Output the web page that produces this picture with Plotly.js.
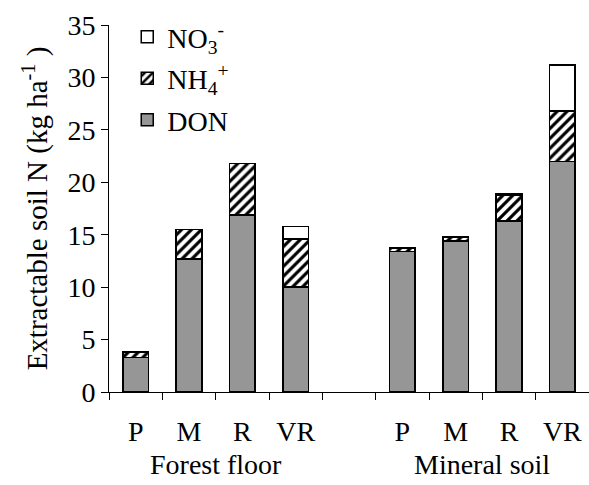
<!DOCTYPE html>
<html>
<head>
<meta charset="utf-8">
<script src="https://cdn.plot.ly/plotly-3.0.1.min.js"></script>
<style>
  html, body { margin: 0; padding: 0; background: #ffffff; }
  #chart { width: 589px; height: 485px; }
</style>
</head>
<body>
<div id="chart"></div>
<script>
// Slot positions on the x axis (slot 4 is the empty gap between groups)
const slots = [0, 1, 2, 3, 5, 6, 7, 8];
const categories = ["P", "M", "R", "VR", "P", "M", "R", "VR"];
const groups = ["Forest floor", "Mineral soil"];
const groupCentres = [1.5, 6.5];

// Extractable N pools (kg ha-1)
const don = [3.3, 12.7, 16.9, 10.0, 13.4, 14.4, 16.3, 22.0];
const nh4 = [0.5, 2.8, 4.9, 4.6, 0.35, 0.4, 2.5, 4.8];
const no3 = [0.0, 0.0, 0.0, 1.2, 0.0, 0.0, 0.15, 4.4];

const FONT = "'Liberation Serif', 'Times New Roman', Times, serif";
const FS = 28;
const outline = { color: "#000000", width: 1.5 };
const barWidth = 0.48;

const traces = [
  {
    type: "bar", name: "DON", x: slots, y: don, width: barWidth,
    legendgroup: "g1", legendrank: 3,
    marker: { color: "#969696", line: outline }
  },
  {
    type: "bar", name: "NH<sub>4</sub><sup>+</sup>", x: slots, y: nh4, width: barWidth,
    legendgroup: "g2", legendrank: 2,
    marker: {
      color: "#ffffff", line: outline,
      pattern: { shape: "/", fgcolor: "#000000", bgcolor: "#ffffff", size: 7, solidity: 0.45 }
    }
  },
  {
    type: "bar", name: "NO<sub>3</sub><sup>-</sup>", x: slots, y: no3, width: barWidth,
    legendgroup: "g3", legendrank: 1,
    marker: { color: "#ffffff", line: outline }
  },
  // Invisible helper trace carrying the category labels on the overlay axis
  {
    type: "scatter", mode: "markers", x: slots, y: slots.map(() => 0),
    xaxis: "x2", showlegend: false, hoverinfo: "skip",
    marker: { opacity: 0 }
  }
];

const annotations = groups.map((g, i) => ({
  text: g, x: groupCentres[i], xref: "x", y: 0, yref: "paper",
  yshift: -55, yanchor: "top", showarrow: false,
  font: { family: FONT, size: FS, color: "#000000" }
}));

const layout = {
  width: 589, height: 485,
  margin: { l: 109, r: 0, t: 25, b: 93 },
  paper_bgcolor: "#ffffff", plot_bgcolor: "#ffffff",
  barmode: "stack",
  bargap: 0,
  font: { family: FONT, size: FS, color: "#000000" },
  showlegend: true,
  legend: {
    x: 0.038, y: 1.035, xanchor: "left", yanchor: "top",
    traceorder: "grouped", tracegroupgap: 2,
    bgcolor: "rgba(0,0,0,0)",
    font: { family: FONT, size: FS, color: "#000000" },
    itemwidth: 30
  },
  xaxis: {
    range: [-0.5, 8.5], showgrid: false, zeroline: false,
    tickmode: "linear", tick0: -0.5, dtick: 1,
    ticks: "outside", ticklen: 7, tickwidth: 1, tickcolor: "#000000",
    showticklabels: false,
    showline: true, linecolor: "#000000", linewidth: 1
  },
  xaxis2: {
    overlaying: "x", range: [-0.5, 8.5], showgrid: false, zeroline: false,
    tickmode: "array", tickvals: slots, ticktext: categories,
    ticks: "", ticklabelstandoff: 20, side: "bottom",
    tickfont: { family: FONT, size: FS, color: "#000000" },
    showline: false
  },
  yaxis: {
    range: [0, 35], dtick: 5, showgrid: false, zeroline: false,
    ticks: "outside", ticklen: 7, tickwidth: 1, tickcolor: "#000000",
    showline: true, linecolor: "#000000", linewidth: 1,
    tickfont: { family: FONT, size: FS, color: "#000000" },
    title: {
      text: "Extractable soil N (kg ha<sup>-1</sup> )",
      font: { family: FONT, size: 29, color: "#000000" },
      standoff: 11
    }
  },
  annotations: annotations
};

Plotly.newPlot("chart", traces, layout, { displayModeBar: false, staticPlot: true });
</script>
</body>
</html>
